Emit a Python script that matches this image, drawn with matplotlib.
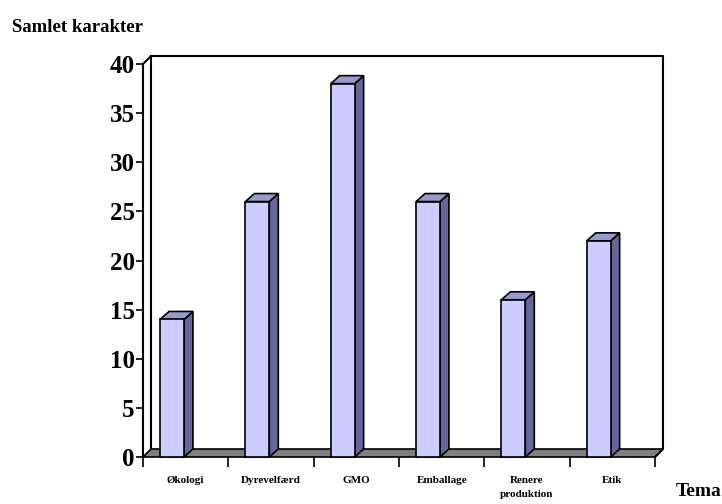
import matplotlib
matplotlib.use("Agg")
import matplotlib.pyplot as plt
from matplotlib.patches import Polygon

# data
categories = ["Økologi", "Dyrevelfærd", "GMO", "Emballage", "Renere\nproduktion", "Etik"]
values = [14, 26, 38, 26, 16, 22]
yticks = [0, 5, 10, 15, 20, 25, 30, 35, 40]

FRONT = "#ccccff"
SIDE = "#666699"
TOP = "#9999cc"
FLOOR = "#808080"
SERIF = "Liberation Serif"

fig = plt.figure(figsize=(7.22, 5.04), dpi=100)
W, H = 722, 504
ax = fig.add_axes([143 / W, (H - 457) / H, (655 - 143) / W, (457 - 64) / H])
ax.set_xlim(0, len(categories))
ax.set_ylim(0, 40)

# depth of the 3d look, in data units
dx, dy = 8 / 85.33, 8 / 9.83
bdx = 9 / 85.33

for s in ["top", "right", "bottom"]:
    ax.spines[s].set_visible(False)
ax.spines["left"].set_linewidth(1.5)
ax.patch.set_visible(False)

n = len(categories)
# floor
ax.add_patch(Polygon([(0, 0), (n, 0), (n + dx, dy), (dx, dy)], closed=True,
                     facecolor=FLOOR, edgecolor="black", lw=1.2, clip_on=False, zorder=1))
# back walls
ax.plot([0, dx, n + dx, n + dx, n], [40, 40 + dy, 40 + dy, dy, 0], color="black",
        lw=1.5, clip_on=False, zorder=1)
ax.plot([dx, dx], [dy, 40 + dy], color="black", lw=1.5, clip_on=False, zorder=1)

# bars
for i, v in enumerate(values):
    x0, x1 = i + 0.2, i + 0.48
    ax.add_patch(Polygon([(x1, 0), (x1 + bdx, dy), (x1 + bdx, v + dy), (x1, v)], closed=True,
                         facecolor=SIDE, edgecolor="black", lw=1.2, clip_on=False, zorder=3))
    ax.add_patch(Polygon([(x0, v), (x1, v), (x1 + bdx, v + dy), (x0 + bdx, v + dy)], closed=True,
                         facecolor=TOP, edgecolor="black", lw=1.2, clip_on=False, zorder=3))
    ax.add_patch(Polygon([(x0, 0), (x1, 0), (x1, v), (x0, v)], closed=True,
                         facecolor=FRONT, edgecolor="black", lw=1.2, clip_on=False, zorder=4))

# ticks
ax.set_yticks(yticks)
ax.set_yticklabels([str(t) for t in yticks], fontfamily=SERIF, fontweight="bold", fontsize=18)
ax.tick_params(axis="y", direction="out", length=5, width=1.2, pad=1)
ax.set_xticks(range(n + 1))
ax.set_xticklabels([])
ax.tick_params(axis="x", which="major", direction="out", length=7, width=1.2)
ax.set_xticks([i + 0.5 for i in range(n)], minor=True)
ax.set_xticklabels(categories, minor=True, fontfamily=SERIF, fontweight="bold",
                   fontsize=8, linespacing=1.6, va="top")
ax.tick_params(axis="x", which="minor", length=0, pad=14)

fig.text(12 / W, 1 - 27 / H, "Samlet karakter", fontfamily=SERIF, fontweight="bold",
         fontsize=13.5, va="center", ha="left")
fig.text(721 / W, 1 - 492 / H, "Tema", fontfamily=SERIF, fontweight="bold",
         fontsize=14, va="center", ha="right")

fig.savefig("out.png", dpi=100)
